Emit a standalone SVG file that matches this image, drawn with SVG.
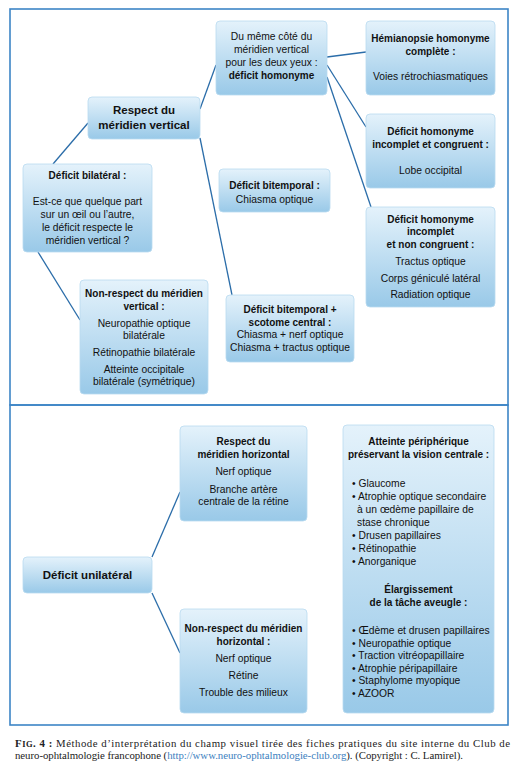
<svg xmlns="http://www.w3.org/2000/svg" width="520" height="778" viewBox="0 0 520 778">
<defs>
<linearGradient id="g" x1="0" y1="0" x2="0" y2="1">
<stop offset="0" stop-color="#e4f2fb"/>
<stop offset="1" stop-color="#99c9e8"/>
</linearGradient>
<style>
.frame{fill:none;stroke:#3d85c6;stroke-width:1.6}
.box{fill:url(#g);stroke:#b9daf0;stroke-width:0.8}
.c line{stroke:#2b6da9;stroke-width:1.3}
text{font-family:"Liberation Sans",Arial,sans-serif;font-size:10.3px;fill:#111;text-anchor:middle}
.b{font-weight:bold;font-size:10px}
.t{font-weight:bold;font-size:11.5px}
.l{text-anchor:start}
.cap{font-family:"Liberation Serif","DejaVu Serif",serif;font-size:10.8px;text-anchor:start;fill:#222}
.url{fill:#3d7fc0}
</style>
</defs>
<rect width="520" height="778" fill="#fff"/>
<rect class="frame" x="10" y="9" width="498" height="396"/>
<rect class="frame" x="10" y="405" width="498" height="320"/>

<g id="connectors" class="c">
<line x1="53" y1="164" x2="88" y2="123"/>
<line x1="38" y1="252" x2="80" y2="320"/>
<line x1="200" y1="109" x2="216" y2="65"/>
<line x1="200" y1="138" x2="232" y2="295"/>
<line x1="327" y1="57" x2="366" y2="52"/>
<line x1="327" y1="65" x2="366" y2="127"/>
<line x1="327" y1="77" x2="371" y2="207"/>
<line x1="152" y1="557" x2="180" y2="492"/>
<line x1="152" y1="593" x2="180" y2="653"/>
</g>

<g id="n-respect-vertical">
<rect class="box" x="88" y="97" width="112" height="42" rx="4"/>
<text class="t" x="144" y="114">Respect du</text>
<text class="t" x="144" y="129">méridien vertical</text>
</g>

<g id="n-homonyme">
<rect class="box" x="216" y="21" width="111" height="74" rx="4"/>
<text x="271.5" y="40">Du même côté du</text>
<text x="271.5" y="53">méridien vertical</text>
<text x="271.5" y="66">pour les deux yeux :</text>
<text class="b" x="271.5" y="79">déficit homonyme</text>
</g>

<g id="n-hemianopsie">
<rect class="box" x="366" y="21" width="129" height="74" rx="4"/>
<text class="b" x="430.5" y="42">Hémianopsie homonyme</text>
<text class="b" x="430.5" y="55">complète :</text>
<text x="430.5" y="80">Voies rétrochiasmatiques</text>
</g>

<g id="n-congruent">
<rect class="box" x="366" y="114" width="129" height="74" rx="4"/>
<text class="b" x="430.5" y="135">Déficit homonyme</text>
<text class="b" x="430.5" y="148">incomplet et congruent :</text>
<text x="430.5" y="174">Lobe occipital</text>
</g>

<g id="n-non-congruent">
<rect class="box" x="366" y="207" width="129" height="100" rx="4"/>
<text class="b" x="430.5" y="223">Déficit homonyme</text>
<text class="b" x="430.5" y="235">incomplet</text>
<text class="b" x="430.5" y="248">et non congruent :</text>
<text x="430.5" y="265">Tractus optique</text>
<text x="430.5" y="282">Corps géniculé latéral</text>
<text x="430.5" y="298">Radiation optique</text>
</g>

<g id="n-bitemporal">
<rect class="box" x="219" y="169" width="111" height="43" rx="4"/>
<text class="b" x="274.5" y="189">Déficit bitemporal :</text>
<text x="274.5" y="203">Chiasma optique</text>
</g>

<g id="n-bitemporal-scotome">
<rect class="box" x="226" y="295" width="128" height="67" rx="4"/>
<text class="b" x="290" y="313">Déficit bitemporal +</text>
<text class="b" x="290" y="326">scotome central :</text>
<text x="290" y="338">Chiasma + nerf optique</text>
<text x="290" y="351">Chiasma + tractus optique</text>
</g>

<g id="n-bilateral">
<rect class="box" x="23" y="164" width="129" height="88" rx="4"/>
<text class="b" x="87.5" y="179">Déficit bilatéral :</text>
<text x="87.5" y="205">Est-ce que quelque part</text>
<text x="87.5" y="218">sur un œil ou l’autre,</text>
<text x="87.5" y="231">le déficit respecte le</text>
<text x="87.5" y="244">méridien vertical ?</text>
</g>

<g id="n-non-respect-vertical">
<rect class="box" x="80" y="280" width="128" height="114" rx="4"/>
<text class="b" x="144" y="297">Non-respect du méridien</text>
<text class="b" x="144" y="310">vertical :</text>
<text x="144" y="327">Neuropathie optique</text>
<text x="144" y="339">bilatérale</text>
<text x="144" y="356">Rétinopathie bilatérale</text>
<text x="144" y="373">Atteinte occipitale</text>
<text x="144" y="385">bilatérale (symétrique)</text>
</g>

<g id="n-respect-horizontal">
<rect class="box" x="180" y="426" width="127" height="95" rx="4"/>
<text class="b" x="243.5" y="445">Respect du</text>
<text class="b" x="243.5" y="458">méridien horizontal</text>
<text x="243.5" y="475">Nerf optique</text>
<text x="243.5" y="493">Branche artère</text>
<text x="243.5" y="505">centrale de la rétine</text>
</g>

<g id="n-unilateral">
<rect class="box" x="23" y="557" width="129" height="36" rx="4"/>
<text class="t" x="87.5" y="579">Déficit unilatéral</text>
</g>

<g id="n-non-respect-horizontal">
<rect class="box" x="180" y="609" width="127" height="104" rx="4"/>
<text class="b" x="243.5" y="632">Non-respect du méridien</text>
<text class="b" x="243.5" y="645">horizontal :</text>
<text x="243.5" y="662">Nerf optique</text>
<text x="243.5" y="679">Rétine</text>
<text x="243.5" y="696">Trouble des milieux</text>
</g>

<g id="n-peripherique">
<rect class="box" x="343" y="425" width="151" height="288" rx="4"/>
<text class="b" x="418.5" y="445">Atteinte périphérique</text>
<text class="b" x="418.5" y="458">préservant la vision centrale :</text>
<text class="l" x="352" y="487">• Glaucome</text>
<text class="l" x="352" y="500">• Atrophie optique secondaire</text>
<text class="l" x="357" y="513">à un œdème papillaire de</text>
<text class="l" x="357" y="526">stase chronique</text>
<text class="l" x="352" y="539">• Drusen papillaires</text>
<text class="l" x="352" y="552">• Rétinopathie</text>
<text class="l" x="352" y="565">• Anorganique</text>
<text class="b" x="418.5" y="593">Élargissement</text>
<text class="b" x="418.5" y="606">de la tâche aveugle :</text>
<text class="l" x="352" y="634">• Œdème et drusen papillaires</text>
<text class="l" x="352" y="647">• Neuropathie optique</text>
<text class="l" x="352" y="659">• Traction vitréopapillaire</text>
<text class="l" x="352" y="672">• Atrophie péripapillaire</text>
<text class="l" x="352" y="684">• Staphylome myopique</text>
<text class="l" x="352" y="697">• AZOOR</text>
</g>

<g id="caption">
<text class="cap" x="15" y="747" textLength="495" lengthAdjust="spacing"><tspan font-weight="bold">F</tspan><tspan font-weight="bold" font-size="8.5px">IG</tspan><tspan font-weight="bold">. 4 :</tspan> Méthode d’interprétation du champ visuel tirée des fiches pratiques du site interne du Club de</text>
<text class="cap" x="15" y="759" textLength="448" lengthAdjust="spacing">neuro-ophtalmologie francophone (<tspan class="url">http://www.neuro-ophtalmologie-club.org</tspan>). (Copyright : C. Lamirel).</text>
</g>
</svg>
